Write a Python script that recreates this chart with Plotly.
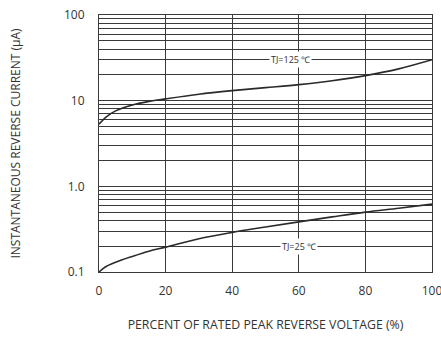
import math
import plotly.graph_objects as go

# Data
pct = [0, 2, 5, 10, 15, 20, 30, 40, 50, 60, 70, 80, 90, 100]
tj125 = [5.3, 6.4, 7.6, 8.9, 9.8, 10.5, 11.9, 13.1, 14.2, 15.4, 17.1, 19.6, 23.5, 30.0]
tj25 = [0.1, 0.115, 0.13, 0.152, 0.175, 0.195, 0.245, 0.29, 0.335, 0.385, 0.44, 0.50, 0.555, 0.62]

x_ticks = [0, 20, 40, 60, 80, 100]
decade_labels = {0.1: "0.1", 1: "1.0", 10: "10", 100: "100"}
y_grid = [round(m * 10 ** e, 6) for e in (-1, 0, 1) for m in range(1, 10)] + [100]
y_text = [decade_labels.get(v, "") for v in y_grid]

FONT = "Open Sans, Lato, sans-serif"
GRID = "#3a3a3a"
LINE = "#2a2a2a"

fig = go.Figure()
fig.add_trace(go.Scatter(x=pct, y=tj125, mode="lines", line=dict(color=LINE, width=1.6, shape="spline"), showlegend=False))
fig.add_trace(go.Scatter(x=pct, y=tj25, mode="lines", line=dict(color=LINE, width=1.6, shape="spline"), showlegend=False))

fig.add_annotation(x=57.5, y=math.log10(30), text="TJ=125 ℃", showarrow=False, bgcolor="white",
                   font=dict(family=FONT, size=9, color="#333"))
fig.add_annotation(x=60, y=math.log10(0.2), text="TJ=25 ℃", showarrow=False, bgcolor="white",
                   font=dict(family=FONT, size=9, color="#333"))

fig.update_layout(
    width=441, height=340,
    margin=dict(l=99, r=9, t=15, b=68, autoexpand=False),
    paper_bgcolor="white", plot_bgcolor="white",
    font=dict(family=FONT, size=12, color="#333"),
    xaxis=dict(range=[0, 100], tickvals=x_ticks, showgrid=True, gridcolor=GRID, gridwidth=1,
               showline=True, linecolor=GRID, mirror=True, zeroline=False, ticks="",
               tickfont=dict(size=12), ticklabelstandoff=8, automargin=False, ticklabeloverflow="allow",
               title=dict(text="PERCENT OF RATED PEAK REVERSE VOLTAGE (%)", font=dict(size=12.3), standoff=21)),
    yaxis=dict(type="log", range=[-1, 2], tickmode="array", tickvals=y_grid, ticktext=y_text,
               showgrid=True, gridcolor=GRID, gridwidth=1, showline=True, linecolor=GRID, mirror=True,
               zeroline=False, ticks="", tickfont=dict(size=12), ticklabelstandoff=11, automargin=False,
               ticklabeloverflow="allow",
               title=dict(text="INSTANTANEOUS REVERSE CURRENT (μA)", font=dict(size=12), standoff=40)),
)

fig.write_html("out.html", config={"displayModeBar": False},
               post_script="document.body.style.margin='0';")
